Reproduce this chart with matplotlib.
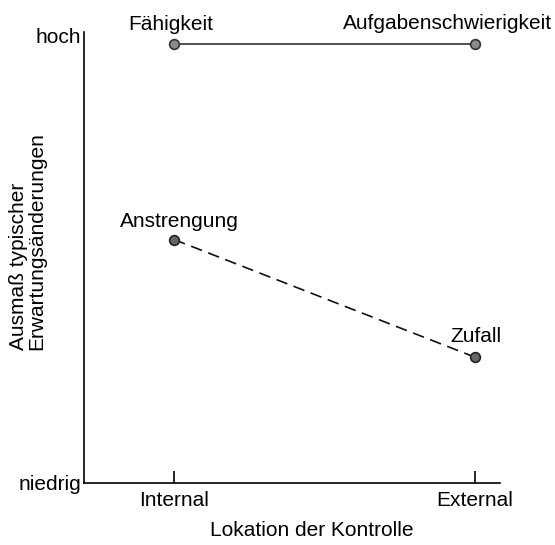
import matplotlib
matplotlib.use("Agg")
import matplotlib.pyplot as plt

plt.rcParams['font.family'] = ['Liberation Sans', 'DejaVu Sans']

# Data (0 = niedrig, 1 = hoch)
locations = ["Internal", "External"]
x_pos = [0, 1]
stable_labels = ["Fähigkeit", "Aufgabenschwierigkeit"]
stable_values = [0.973, 0.973]
variable_labels = ["Anstrengung", "Zufall"]
variable_values = [0.54, 0.279]

FS = 15

fig = plt.figure(figsize=(5.55, 5.45), dpi=100)
ax = fig.add_axes([84 / 555, 0.1138, 416 / 555, 0.8272])

# Stable causes: solid line
ax.plot(x_pos, stable_values, color="#222222", lw=1.1, linestyle="-",
        marker="o", markersize=7, markerfacecolor="#8a8a8a",
        markeredgecolor="#333333", markeredgewidth=1.2)
# Variable causes: dashed line
ax.plot(x_pos, variable_values, color="#111111", lw=1.2, linestyle=(0, (7, 4)),
        marker="o", markersize=7, markerfacecolor="#666666",
        markeredgecolor="#222222", markeredgewidth=1.2)

# Point labels
ax.annotate(stable_labels[0], (x_pos[0], stable_values[0]), xytext=(-2, 10),
            textcoords="offset points", ha="center", fontsize=FS)
ax.annotate(stable_labels[1], (x_pos[1], stable_values[1]), xytext=(-20, 11),
            textcoords="offset points", ha="center", fontsize=FS)
ax.annotate(variable_labels[0], (x_pos[0], variable_values[0]), xytext=(4, 9),
            textcoords="offset points", ha="center", fontsize=FS)
ax.annotate(variable_labels[1], (x_pos[1], variable_values[1]), xytext=(1, 11),
            textcoords="offset points", ha="center", fontsize=FS)

ax.set_xlim(-0.299, 1.083)
ax.set_ylim(0, 1.0)

ax.set_xticks(x_pos)
ax.set_xticklabels(locations, fontsize=FS)
ax.tick_params(axis="x", direction="in", length=9, width=1.2, pad=6)

ax.set_yticks([0, 0.993])
ax.set_yticklabels(["niedrig", "hoch"], fontsize=FS)
ax.tick_params(axis="y", length=0, pad=2)

ax.spines["top"].set_visible(False)
ax.spines["right"].set_visible(False)
ax.spines["left"].set_linewidth(1.2)
ax.spines["bottom"].set_linewidth(1.2)

ax.set_xlabel("Lokation der Kontrolle", fontsize=FS, labelpad=9)
ax.xaxis.set_label_coords(0.548, -0.085)

# y label: two lines, aligned at their start (bottom)
fig.text(27.5 / 555, 1 - 241 / 545, "Ausmaß typischer\nErwartungsänderungen",
         rotation=90, ha="center", va="center", multialignment="left",
         linespacing=0.95, fontsize=FS)

plt.savefig("out.png", dpi=100)
plt.close()
